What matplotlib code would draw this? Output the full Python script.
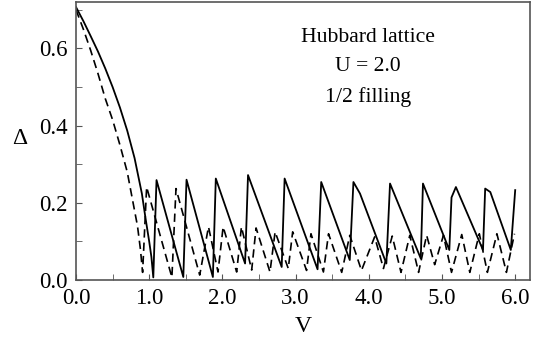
import numpy as np
import matplotlib.pyplot as plt
from matplotlib.ticker import MultipleLocator, FormatStrFormatter

plt.rcParams['font.family'] = ['Liberation Serif', 'DejaVu Serif']

# solid curve (V, Delta)
v_solid = [0.0, 0.1, 0.2, 0.3, 0.4, 0.5, 0.6, 0.7, 0.8, 0.9, 0.95, 1.0, 1.03, 1.056,
           1.10, 1.466, 1.51, 1.87, 1.91, 2.31, 2.35, 2.81, 2.85, 3.30,
           3.35, 3.74, 3.79, 3.88, 4.24, 4.29, 4.71, 4.74, 5.10, 5.13, 5.19,
           5.56, 5.59, 5.66, 5.94, 6.0]
d_solid = [0.707, 0.671, 0.632, 0.592, 0.548, 0.50, 0.447, 0.387, 0.316, 0.224, 0.16, 0.10, 0.06, 0.007,
           0.259, 0.008, 0.26, 0.008, 0.263, 0.043, 0.272, 0.034, 0.263, 0.028,
           0.254, 0.052, 0.254, 0.224, 0.043, 0.25, 0.056, 0.25, 0.078, 0.214, 0.241,
           0.078, 0.237, 0.228, 0.078, 0.233]

# dashed curve (V, Delta)
v_dash = [0.0, 0.1, 0.2, 0.3, 0.4, 0.5, 0.6, 0.7, 0.78, 0.84, 0.88, 0.91,
          0.965, 1.31, 1.366, 1.69, 1.81, 1.94, 2.01, 2.195, 2.26, 2.40, 2.46,
          2.65, 2.72, 2.90, 2.96, 3.15, 3.21, 3.38, 3.45, 3.63, 3.74, 3.90,
          4.08, 4.20, 4.32, 4.44, 4.56, 4.68, 4.79, 4.90, 5.02, 5.13, 5.27,
          5.38, 5.51, 5.62, 5.75, 5.88, 5.99]
d_dash = [0.70, 0.65, 0.595, 0.535, 0.47, 0.415, 0.35, 0.28, 0.20, 0.14, 0.08, 0.02,
          0.241, 0.007, 0.237, 0.013, 0.138, 0.021, 0.138, 0.021, 0.138, 0.026, 0.135,
          0.021, 0.125, 0.03, 0.125, 0.025, 0.12, 0.021, 0.12, 0.02, 0.116, 0.025,
          0.112, 0.03, 0.114, 0.02, 0.116, 0.02, 0.116, 0.04, 0.116, 0.02, 0.118,
          0.02, 0.12, 0.02, 0.12, 0.02, 0.12]

fig = plt.figure(figsize=(5.39, 3.42), dpi=100)
ax = fig.add_axes([0.141, 0.181, 0.842, 0.813])

ax.plot(v_solid, d_solid, color='black', lw=1.3)
ax.plot(v_dash, d_dash, color='black', lw=1.2, dashes=(5, 3))

ax.set_xlim(0, 6.2)
ax.set_ylim(0, 0.72)
ax.xaxis.set_major_locator(MultipleLocator(1.0))
ax.xaxis.set_minor_locator(MultipleLocator(0.5))
ax.yaxis.set_major_locator(MultipleLocator(0.2))
ax.yaxis.set_minor_locator(MultipleLocator(0.1))
ax.xaxis.set_major_formatter(FormatStrFormatter('%.1f'))
ax.yaxis.set_major_formatter(FormatStrFormatter('%.1f'))
ax.tick_params(which='both', direction='in', labelsize=16.5, color='#555555', length=4)
ax.tick_params(axis='x', pad=6)
ax.tick_params(axis='y', pad=6)
for s in ax.spines.values():
    s.set_color('#555555')
    s.set_linewidth(1.2)

ax.set_xlabel('V', fontsize=17, labelpad=5)
ax.set_ylabel('Δ', fontsize=17, rotation=0)
ax.yaxis.set_label_coords(-0.125, 0.47)

ax.text(0.643, 0.905, 'Hubbard lattice\nU = 2.0\n1/2 filling', transform=ax.transAxes,
        ha='center', va='top', fontsize=15.6, linespacing=1.7)

fig.savefig('out.png', dpi=100)
